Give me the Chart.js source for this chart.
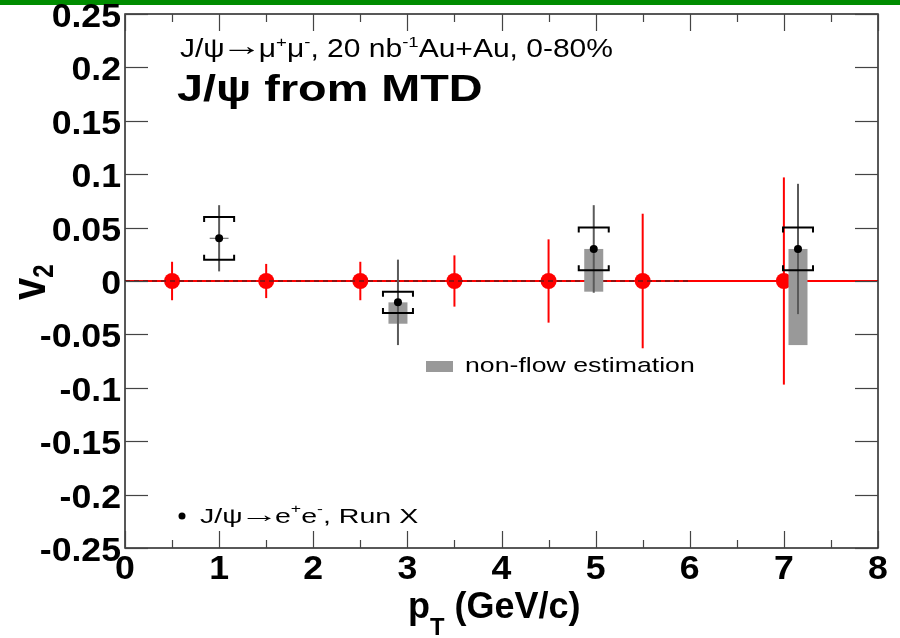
<!DOCTYPE html>
<html>
<head>
<meta charset="utf-8">
<title>J/psi v2 vs pT</title>
<script src="https://cdn.jsdelivr.net/npm/chart.js@4.4.1/dist/chart.umd.min.js"></script>
<style>
  html, body { margin: 0; padding: 0; background: #fff; }
  canvas { display: block; }
</style>
</head>
<body>
<canvas id="v2Chart" width="900" height="638"></canvas>
<script>
// MTD projection: v2 = 0 with expected statistical errors
const mtdPt = [0.5, 1.5, 2.5, 3.5, 4.5, 5.5, 7.0];
const mtdV2 = [0, 0, 0, 0, 0, 0, 0];
const mtdErr = [0.018, 0.016, 0.018, 0.024, 0.039, 0.063, 0.097];

// J/psi -> e+e- measurement
const eePt = [1.0, 2.9, 4.98, 7.15];
const eeV2 = [0.04, -0.02, 0.03, 0.03];
const eePtErr = [0.1, 0, 0, 0];
const eeStat = [0.031, 0.04, 0.041, 0.061];
const eeSys = [0.02, 0.01, 0.02, 0.02];
const eeNonFlow = [0, 0.02, 0.04, 0.09];

// reference lines at v2 = 0
const zeroLinePt = [0, 8];
const dashLinePt = [0, 6];

// axis ranges
const xRange = [0, 8];
const yRange = [-0.25, 0.25];
const xStep = 0.5;
const yStep = 0.05;

const FONT = '"Liberation Sans", Arial, Helvetica, sans-serif';

(function () {
  const $ = (id) => document.getElementById(id);

  // draws text made of pieces, some raised or lowered, optionally stretched in x
  function drawRich(ctx, parts, x, y, size, weight, sx) {
    ctx.save();
    ctx.translate(x, y);
    ctx.scale(sx, 1);
    ctx.textAlign = 'left';
    ctx.textBaseline = 'alphabetic';
    let cx = 0;
    parts.forEach((p) => {
      const s = size * (p.s || 1);
      const w = p.w || 1;
      const pad = (p.pad || 0) * size;
      ctx.font = `${weight} ${s}px ${FONT}`;
      cx += pad;
      ctx.save();
      ctx.translate(cx, size * (p.dy || 0));
      ctx.scale(w, 1);
      ctx.fillText(p.t, 0, 0);
      ctx.restore();
      cx += ctx.measureText(p.t).width * w + pad;
    });
    ctx.restore();
  }

  function drawPlain(ctx, text, x, y, size, weight, sx, align) {
    ctx.save();
    ctx.translate(x, y);
    ctx.scale(sx, 1);
    ctx.font = `${weight} ${size}px ${FONT}`;
    ctx.textAlign = align;
    ctx.textBaseline = 'middle';
    ctx.fillText(text, 0, 0);
    ctx.restore();
  }

  function line(ctx, x1, y1, x2, y2) {
    ctx.beginPath();
    ctx.moveTo(x1, y1);
    ctx.lineTo(x2, y2);
    ctx.stroke();
  }

  const fmtY = (v) => String(Number(v.toFixed(2)));

  const rootStyle = {
    id: 'rootStyle',
    beforeDraw(chart) {
      const ctx = chart.ctx;
      ctx.save();
      ctx.fillStyle = '#fff';
      ctx.fillRect(0, 0, chart.width, chart.height);
      ctx.fillStyle = '#008c00';
      ctx.fillRect(0, 0, chart.width, 5);
      ctx.restore();
    },
    beforeDatasetDraw(chart, args) {
      if (args.index !== 1) return;
      // red error bars under the MTD markers
      const ctx = chart.ctx;
      const xs = chart.scales.x, ys = chart.scales.y;
      ctx.save();
      ctx.strokeStyle = '#ff0000';
      ctx.lineWidth = 2;
      mtdPt.forEach((pt, i) => {
        const px = xs.getPixelForValue(pt);
        line(ctx, px, ys.getPixelForValue(mtdV2[i] + mtdErr[i]), px, ys.getPixelForValue(mtdV2[i] - mtdErr[i]));
      });
      ctx.restore();
    },
    afterDatasetDraw(chart, args) {
      if (args.index !== 2) return;
      const ctx = chart.ctx;
      const xs = chart.scales.x, ys = chart.scales.y;
      ctx.save();
      // non-flow boxes
      ctx.fillStyle = '#999999';
      eePt.forEach((pt, i) => {
        if (!eeNonFlow[i]) return;
        const px = xs.getPixelForValue(pt);
        const top = ys.getPixelForValue(eeV2[i]);
        const bot = ys.getPixelForValue(eeV2[i] - eeNonFlow[i]);
        ctx.fillRect(px - 9.5, top, 19, bot - top);
      });
      // statistical errors
      ctx.strokeStyle = '#5a5a5a';
      eePt.forEach((pt, i) => {
        const px = xs.getPixelForValue(pt);
        const py = ys.getPixelForValue(eeV2[i]);
        ctx.lineWidth = 2;
        line(ctx, px, ys.getPixelForValue(eeV2[i] + eeStat[i]), px, ys.getPixelForValue(eeV2[i] - eeStat[i]));
        if (eePtErr[i]) {
          ctx.lineWidth = 1;
          line(ctx, xs.getPixelForValue(pt - eePtErr[i]), py, xs.getPixelForValue(pt + eePtErr[i]), py);
        }
      });
      // systematic brackets
      ctx.strokeStyle = '#000';
      ctx.lineWidth = 2;
      eePt.forEach((pt, i) => {
        const px = xs.getPixelForValue(pt);
        const hi = ys.getPixelForValue(eeV2[i] + eeSys[i]);
        const lo = ys.getPixelForValue(eeV2[i] - eeSys[i]);
        ctx.beginPath();
        ctx.moveTo(px - 15, hi + 5); ctx.lineTo(px - 15, hi); ctx.lineTo(px + 15, hi); ctx.lineTo(px + 15, hi + 5);
        ctx.moveTo(px - 15, lo - 5); ctx.lineTo(px - 15, lo); ctx.lineTo(px + 15, lo); ctx.lineTo(px + 15, lo - 5);
        ctx.stroke();
      });
      ctx.restore();
    },
    afterDraw(chart) {
      const ctx = chart.ctx;
      const a = chart.chartArea;
      const xs = chart.scales.x, ys = chart.scales.y;
      ctx.save();

      // frame
      ctx.strokeStyle = '#222';
      ctx.lineWidth = 1.5;
      ctx.strokeRect(a.left, a.top, a.right - a.left, a.bottom - a.top);

      // inward ticks on all four sides
      ctx.strokeStyle = '#444';
      ctx.lineWidth = 1.2;
      xs.ticks.forEach((t) => {
        const px = Math.round(xs.getPixelForValue(t.value)) + 0.5;
        const major = Math.abs(t.value - Math.round(t.value)) < 1e-6;
        const len = major ? 17 : 8;
        line(ctx, px, a.bottom, px, a.bottom - len);
        line(ctx, px, a.top, px, a.top + len);
      });
      ys.ticks.forEach((t) => {
        const py = Math.round(ys.getPixelForValue(t.value)) + 0.5;
        line(ctx, a.left, py, a.left + 23, py);
        line(ctx, a.right, py, a.right - 23, py);
      });

      // tick labels
      ctx.fillStyle = '#000';
      xs.ticks.forEach((t) => {
        if (Math.abs(t.value - Math.round(t.value)) > 1e-6) return;
        drawPlain(ctx, String(Math.round(t.value)), xs.getPixelForValue(t.value), 570, 33, 'bold', 1.08, 'center');
      });
      ys.ticks.forEach((t) => {
        drawPlain(ctx, fmtY(t.value), a.left - 4, ys.getPixelForValue(t.value) + 4, 33, 'bold', 1.08, 'right');
      });

      // axis titles
      drawRich(ctx, [{ t: 'p' }, { t: 'T', s: 0.66, dy: 0.47 }, { t: ' (GeV/c)' }], 408, 618, 36, 'bold', 1);

      ctx.save();
      ctx.translate(45, 300);
      ctx.scale(1.2, 1);
      ctx.rotate(-Math.PI / 2);
      ctx.font = `bold 40px ${FONT}`;
      ctx.textBaseline = 'alphabetic';
      ctx.fillText('v', 0, 0);
      const vw = ctx.measureText('v').width;
      ctx.font = `bold 24px ${FONT}`;
      ctx.fillText('2', vw, 7);
      ctx.restore();

      // annotations
      const arrow = { t: '→', w: 1.25, s: 1.1, dy: -0.07, pad: -0.12 };
      drawRich(ctx, [
        { t: 'J/ψ' }, arrow, { t: 'μ' }, { t: '+', s: 0.62, dy: -0.42 }, { t: 'μ' }, { t: '-', s: 0.62, dy: -0.42 },
        { t: ', 20 nb' }, { t: '-1', s: 0.62, dy: -0.42 }, { t: 'Au+Au, 0-80%' },
      ], 180, 57, 25, 'normal', 1.2);
      drawRich(ctx, [{ t: 'J/ψ from MTD' }], 177, 101, 36, 'bold', 1.3);

      // legend entries
      ctx.fillStyle = '#999999';
      ctx.fillRect(426, 361, 27, 11);
      ctx.fillStyle = '#000';
      drawRich(ctx, [{ t: 'non-flow estimation' }], 465, 371.5, 21, 'normal', 1.27);

      ctx.beginPath();
      ctx.arc(182, 516, 3.5, 0, Math.PI * 2);
      ctx.fill();
      drawRich(ctx, [
        { t: 'J/ψ' }, arrow, { t: 'e' }, { t: '+', s: 0.62, dy: -0.5 }, { t: 'e' }, { t: '-', s: 0.62, dy: -0.5 }, { t: ', Run X' },
      ], 200, 523, 21, 'normal', 1.36);

      ctx.restore();
    },
  };

  new Chart($('v2Chart'), {
    type: 'scatter',
    data: {
      datasets: [
        {
          label: 'zero',
          data: zeroLinePt.map((x) => ({ x, y: 0 })),
          showLine: true,
          borderColor: '#ff0000',
          borderWidth: 2,
          pointRadius: 0,
          order: 6,
        },
        {
          label: 'MTD projection',
          data: mtdPt.map((x, i) => ({ x, y: mtdV2[i] })),
          pointRadius: 8,
          pointBackgroundColor: '#ff0000',
          pointBorderWidth: 0,
          order: 5,
        },
        {
          label: 'dashed zero',
          data: dashLinePt.map((x) => ({ x, y: 0 })),
          showLine: true,
          borderColor: '#222',
          borderWidth: 1,
          borderDash: [5, 4],
          pointRadius: 0,
          order: 4,
        },
        {
          label: 'J/psi -> ee',
          data: eePt.map((x, i) => ({ x, y: eeV2[i] })),
          pointRadius: 4,
          pointBackgroundColor: '#000',
          pointBorderWidth: 0,
          order: 1,
        },
      ],
    },
    options: {
      responsive: false,
      animation: false,
      layout: { padding: { top: 14, right: 22, left: 0, bottom: 0 } },
      plugins: { legend: { display: false }, tooltip: { enabled: false } },
      scales: {
        x: {
          type: 'linear',
          min: xRange[0],
          max: xRange[1],
          ticks: { display: false, stepSize: xStep, autoSkip: false },
          grid: { display: false },
          border: { display: false },
          afterFit: (s) => { s.height = 90; },
        },
        y: {
          type: 'linear',
          min: yRange[0],
          max: yRange[1],
          ticks: { display: false, stepSize: yStep, autoSkip: false },
          grid: { display: false },
          border: { display: false },
          afterFit: (s) => { s.width = 125; },
        },
      },
    },
    plugins: [rootStyle],
  });
})();
</script>
</body>
</html>
